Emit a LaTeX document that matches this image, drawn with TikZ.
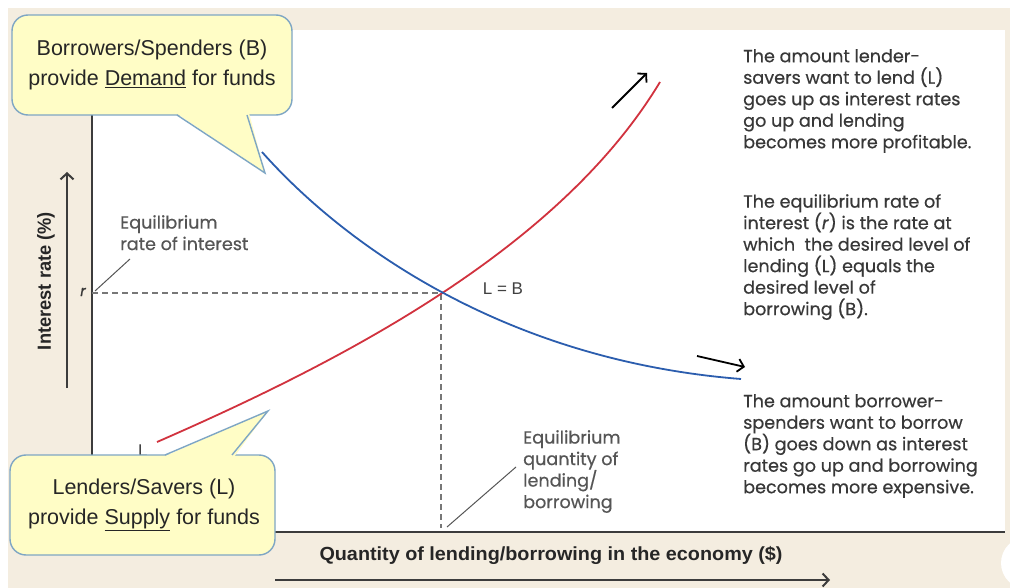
\documentclass[tikz,border=0pt]{standalone}
\usepackage{fontspec}
\usepackage{graphicx}
\setmainfont{Liberation Sans}
\newfontfamily\geo[FakeBold=0.5]{Poppins}
\usetikzlibrary{arrows.meta}
\definecolor{beige}{HTML}{F4EDE0}
\definecolor{callfill}{HTML}{FFFDC6}
\definecolor{callline}{HTML}{7EA6C4}
\definecolor{supred}{HTML}{D1323E}
\definecolor{demblue}{HTML}{2B5DAE}
\definecolor{axisgrey}{HTML}{3C3C3C}
\definecolor{notegrey}{HTML}{383838}
\definecolor{leadgrey}{HTML}{555555}
\begin{document}
\begin{tikzpicture}[x=1pt,y=-1pt,
  axisline/.style={draw=axisgrey,line width=2.4pt},
  dirarrow/.style={draw=black,line width=1.8pt,-{Straight Barb[length=6pt,width=13pt]}},
  guide/.style={draw=leadgrey!80,line width=1.1pt,dash pattern=on 6pt off 4pt},
  leader/.style={draw=leadgrey,line width=1pt},
  note/.style={inner sep=0pt,align=left,text=notegrey,font=\geo\fontsize{17.6}{21.5}\selectfont},
  callbox/.style={fill=callfill,draw=callline,line width=1.4pt,rounded corners=16pt},
  calltext/.style={inner sep=0pt,align=center,font=\fontsize{21.5}{30}\selectfont,text=black!85},
  curvelbl/.style={inner sep=0pt,font=\fontsize{17}{20}\selectfont,text=black!75}]
\useasboundingbox (0,0) rectangle (1010,588);
\fill[white] (0,0) rectangle (1010,588);
\fill[beige] (8,8) rectangle (1010,588);
\fill[white] (92,30) rectangle (1005,532);
\fill[white] (1027,563) circle (26pt);

% coordinates
\coordinate (O) at (92,532);
\coordinate (Ytop) at (92,30);
\coordinate (Xend) at (1005,532);
\coordinate (E) at (441,293);
\coordinate (Er) at (92,293);
\coordinate (Eq) at (441,528);
\coordinate (S0) at (157,442);
\coordinate (S1) at (660,82);
\coordinate (D0) at (262,152);
\coordinate (D1) at (741,379);

% axes
\draw[axisline] (Ytop) -- (O) -- (Xend);

% guides
\draw[guide] (Er) -- (E) -- (Eq);

% curves
\draw[supred,line width=1.8pt] (S0) .. controls (345,360) and (560,248) .. (S1);
\draw[demblue,line width=1.8pt] (D0) .. controls (340,240) and (500,360) .. (D1);

% direction arrows
\coordinate (a1s) at (612,108); \coordinate (a1e) at (647,73);
\coordinate (a2s) at (697,356); \coordinate (a2e) at (745,367);
\draw[dirarrow] (a1s) -- (a1e);
\draw[dirarrow] (a2s) -- (a2e);

% axis titles
\coordinate (ya0) at (67,388); \coordinate (ya1) at (67,172);
\draw[draw=axisgrey,line width=2pt,-{Straight Barb[length=6pt,width=13pt]}] (ya0) -- (ya1);
\node[inner sep=0pt,rotate=90,text=black!85] (ylab) at (46,281)
  {\resizebox{138pt}{\height}{\fontsize{19}{19}\selectfont\bfseries Interest rate (\%)}};
\coordinate (xa0) at (275,580); \coordinate (xa1) at (830,580);
\draw[draw=axisgrey,line width=2pt,-{Straight Barb[length=6pt,width=13pt]}] (xa0) -- (xa1);
\node[inner sep=0pt,text=black!85] (xlab) at (551,555)
  {\resizebox{463pt}{\height}{\fontsize{19}{19}\selectfont\bfseries Quantity of lending/borrowing in the economy (\$)}};

% labels
\node[inner sep=0pt,font=\geo\itshape\fontsize{15}{15}\selectfont,text=notegrey] (rlab) at (83,292) {r};
\node[curvelbl] (eqlab) at (503,289) {L = B};
\node[curvelbl,anchor=base west] (Llab) at (138,456) {L};

% equilibrium notes
\node[note,anchor=north west,text=leadgrey] (eqr) at (120,215) {Equilibrium\\rate of interest};
\coordinate (l1a) at (95,291); \coordinate (l1b) at (130,259);
\draw[leader] (l1a) -- (l1b);
\node[note,anchor=north west,text=leadgrey] (eqq) at (523,430) {Equilibrium\\quantity of\\lending/\\borrowing};
\coordinate (l2a) at (447,527); \coordinate (l2b) at (516,467);
\draw[leader] (l2a) -- (l2b);

% right notes
\node[note,anchor=north west] (n1) at (743,49) {The amount lender-\\savers want to lend (L)\\goes up as interest rates\\go up and lending\\becomes more profitable.};
\node[note,anchor=north west] (n2) at (743,194) {The equilibrium rate of\\interest (\textit{r}) is the rate at\\which\ \ the desired level of\\lending (L) equals the\\desired level of\\borrowing (B).};
\node[note,anchor=north west] (n3) at (743,394) {The amount borrower-\\spenders want to borrow\\(B) goes down as interest\\rates go up and borrowing\\becomes more expensive.};

% callout B
\draw[callbox] (12,15) rectangle (292,115);
\fill[callfill] (176,113) -- (249,113) -- (265,173) -- cycle;
\draw[callline,line width=1.4pt,line join=miter] (177,115) -- (265,173) -- (247,115);
\node[calltext] (cB) at (152,65) {Borrowers/Spenders (B)\\provide \underline{Demand} for funds};

% callout L
\draw[callbox] (10,455) rectangle (275,555);
\fill[callfill] (163,457) -- (234,457) -- (268,411) -- cycle;
\draw[callline,line width=1.4pt,line join=miter] (165,455) -- (268,411) -- (232,455);
\node[calltext] (cL) at (144,505) {Lenders/Savers (L)\\provide \underline{Supply} for funds};
\end{tikzpicture}
\end{document}
